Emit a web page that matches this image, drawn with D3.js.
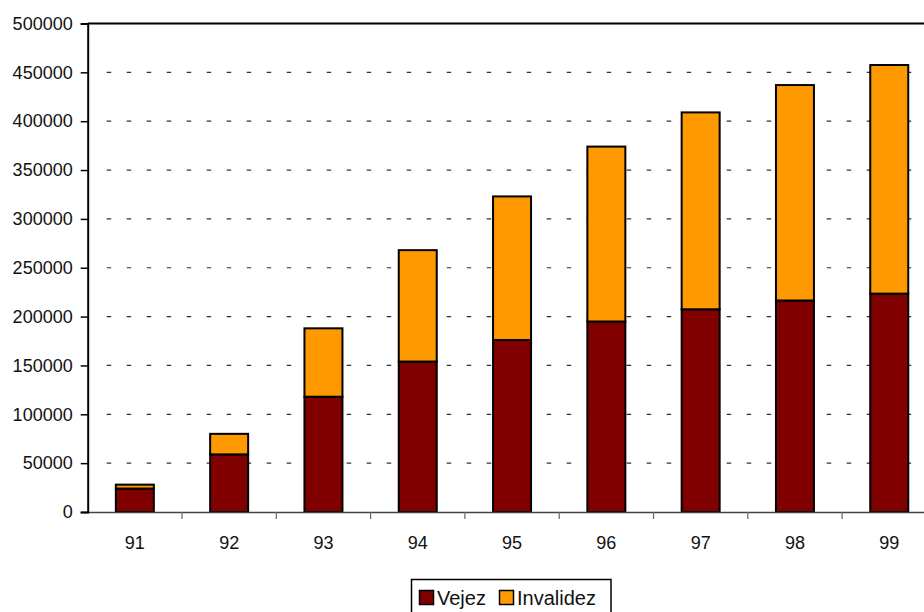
<!DOCTYPE html>
<html>
<head>
<meta charset="utf-8">
<script src="https://cdn.jsdelivr.net/npm/d3@7"></script>
<style>
  html, body { margin: 0; padding: 0; background: #fff; overflow: hidden; }
  svg { display: block; font-family: "Liberation Sans", Arial, sans-serif; }
</style>
</head>
<body>
<svg id="chart" width="924" height="612"></svg>
<script>
// Pensiones otorgadas por año (acumulado), vejez e invalidez
const years = ["91", "92", "93", "94", "95", "96", "97", "98", "99"];
const vejez = [24000, 59000, 118000, 154000, 176000, 195000, 207500, 216500, 223500];
const invalidez = [4000, 21000, 70000, 114000, 147000, 179000, 201500, 220500, 234000];
const yTicks = [0, 50000, 100000, 150000, 200000, 250000, 300000, 350000, 400000, 450000, 500000];
const seriesNames = ["Vejez", "Invalidez"];
const seriesColors = ["#800000", "#FF9900"];

(function () {
  const svg = d3.select("#chart");
  const plotLeft = 87.7, plotTop = 23.5, plotBottom = 512, bandStep = 94.3;
  const plotRight = plotLeft + bandStep * years.length;

  const x = d3.scaleBand().domain(years).range([plotLeft, plotRight]).paddingInner(0).paddingOuter(0);
  const y = d3.scaleLinear().domain([0, 500000]).range([plotBottom, plotTop]);

  // dashed gridlines
  svg.append("g").selectAll("line")
    .data(yTicks.filter(t => t > 0 && t < 500000))
    .join("line")
    .attr("x1", plotLeft + 19).attr("x2", plotRight)
    .attr("y1", d => y(d)).attr("y2", d => y(d))
    .attr("stroke", "#333").attr("stroke-width", 1.2)
    .attr("stroke-dasharray", "4.5,15.5");

  // stacked bars
  const rows = years.map((yr, i) => ({ year: yr, Vejez: vejez[i], Invalidez: invalidez[i] }));
  const stacked = d3.stack().keys(seriesNames)(rows);
  const barW = 38;
  svg.append("g").selectAll("g")
    .data(stacked)
    .join("g")
    .attr("fill", (d, i) => seriesColors[i])
    .selectAll("rect")
    .data(d => d)
    .join("rect")
    .attr("x", d => x(d.data.year) + x.bandwidth() / 2 - barW / 2)
    .attr("width", barW)
    .attr("y", d => y(d[1]))
    .attr("height", d => y(d[0]) - y(d[1]))
    .attr("stroke", "#000")
    .attr("stroke-width", 2);

  // plot frame top
  svg.append("line")
    .attr("x1", plotLeft).attr("x2", plotRight).attr("y1", plotTop).attr("y2", plotTop)
    .attr("stroke", "#000").attr("stroke-width", 2);

  // x axis
  const xAxis = svg.append("g")
    .attr("transform", `translate(0,${plotBottom})`)
    .call(d3.axisBottom(x).tickSize(0));
  xAxis.select(".domain").attr("stroke", "#444").attr("stroke-width", 1.5);
  xAxis.selectAll("text").attr("font-size", 18).attr("fill", "#111")
    .attr("y", 36.5).attr("dy", 0)
    .attr("font-family", "Liberation Sans, Arial, sans-serif");
  // category separators below the baseline
  svg.append("g").selectAll("line")
    .data(years.slice(1))
    .join("line")
    .attr("x1", d => x(d)).attr("x2", d => x(d))
    .attr("y1", plotBottom).attr("y2", plotBottom + 7)
    .attr("stroke", "#666").attr("stroke-width", 1.2);

  // y axis
  const yAxis = svg.append("g")
    .attr("transform", `translate(${plotLeft},0)`)
    .call(d3.axisLeft(y).tickValues(yTicks).tickSize(7).tickPadding(8).tickFormat(d3.format("d")));
  yAxis.select(".domain").attr("stroke", "#000").attr("stroke-width", 2);
  yAxis.selectAll(".tick line").attr("stroke", "#000").attr("stroke-width", 1.5);
  yAxis.selectAll("text").attr("font-size", 18).attr("fill", "#111")
    .attr("font-family", "Liberation Sans, Arial, sans-serif");

  // legend
  const lg = svg.append("g").attr("transform", "translate(411.5,579.5)");
  lg.append("rect").attr("width", 199.5).attr("height", 40)
    .attr("fill", "#fff").attr("stroke", "#000").attr("stroke-width", 1.5);
  const legendX = [8, 88];
  seriesNames.forEach((name, i) => {
    const g = lg.append("g").attr("transform", `translate(${legendX[i]},11)`);
    g.append("rect").attr("width", 14).attr("height", 14)
      .attr("fill", seriesColors[i]).attr("stroke", "#000").attr("stroke-width", 1.5);
    g.append("text").attr("x", 17.5).attr("y", 14.5).attr("font-size", 20).attr("fill", "#111")
      .text(name);
  });
})();
</script>
</body>
</html>
